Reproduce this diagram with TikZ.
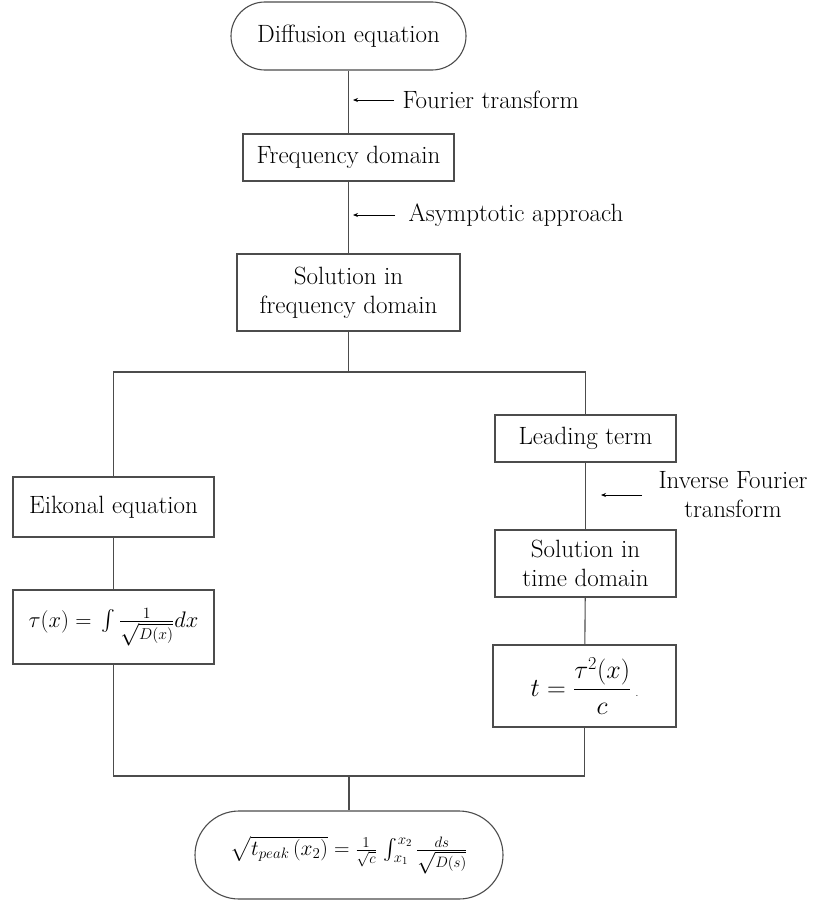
\RequirePackage{fix-cm}
\documentclass[tikz,border=0pt]{standalone}
\usepackage{exscale}
\usepackage{fontspec}
\usetikzlibrary{arrows.meta}
\begin{document}
\begin{tikzpicture}[x=1pt,y=-1pt,
  line width=1.1pt,
  box/.style={draw=black!70,fill=white,inner sep=0pt,align=center,font=\fontsize{25}{29}\selectfont},
  term/.style={box,rounded corners=#1},
  note/.style={inner sep=0pt,font=\fontsize{25}{29}\selectfont},
  conn/.style={draw=black!70},
  tip/.style={draw=black,line width=0.8pt,-{Stealth[length=5pt,width=4pt]}}]
\useasboundingbox (0,0) rectangle (812,902);
% nodes
\node[term=34pt,minimum width=235pt,minimum height=68pt] (top) at (348.5,36) {Diffusion equation};
\node[box,minimum width=211pt,minimum height=47pt] (freq) at (348.5,157.5) {Frequency domain};
\node[box,minimum width=223pt,minimum height=77pt] (solf) at (348.5,292.5) {Solution in\\frequency domain};
\node[box,minimum width=201pt,minimum height=60pt] (eik) at (113.5,507) {Eikonal equation};
\node[box,minimum width=201pt,minimum height=74pt,font=\fontsize{22.5}{26}\selectfont] (tau) at (113.5,627) {$\tau(x) = \,\int \frac{1}{\sqrt{D(x)}} dx$};
\node[box,minimum width=181pt,minimum height=47pt] (lead) at (585.5,438.5) {Leading term};
\node[box,minimum width=181pt,minimum height=67pt] (solt) at (585.5,563.5) {Solution in\\time domain};
\node[box,minimum width=183pt,minimum height=82pt,font=\fontsize{26}{30}\selectfont] (tbox) at (584.5,686) {$\displaystyle t = \frac{\tau^2(x)}{c}$\,{\fontsize{10}{12}\selectfont .}};
\node[term=44pt,minimum width=308pt,minimum height=88pt,font=\fontsize{21.5}{26}\selectfont] (bot) at (349,855) {$\sqrt{t_{peak}\,(x_2)} = \frac{1}{\sqrt{c}}\,\int_{x_1}^{x_2}\frac{ds}{\sqrt{D(s)}}$};
% junction coordinates
\coordinate (jl) at (113.5,372);
\coordinate (jr) at (585.5,372);
\coordinate (bl) at (113.5,776);
\coordinate (br) at (584.5,776);
% connectors
\draw[conn] (top) -- (freq);
\draw[conn] (freq) -- (solf);
\draw[conn] (solf.south) -- (solf.south |- jl);
\draw[conn] (eik.north) -- (jl) -- (jr) -- (lead.north);
\draw[conn] (eik) -- (tau);
\draw[conn] (lead) -- (solt);
\draw[conn] (solt) -- (tbox);
\draw[conn] (tau.south) -- (bl) -- (br) -- (tbox.south);
\draw[conn] (bot.north) -- (bot.north |- bl);
% annotation arrows
\coordinate (a1s) at (394,100); \coordinate (a1e) at (353,100);
\coordinate (a2s) at (395,215); \coordinate (a2e) at (353,215);
\coordinate (a3s) at (642,495); \coordinate (a3e) at (601,495);
\draw[tip] (a1s) -- (a1e);
\draw[tip] (a2s) -- (a2e);
\draw[tip] (a3s) -- (a3e);
\node[note,anchor=west] (l1) at (402,100) {Fourier transform};
\node[note,anchor=west] (l2) at (408,215) {Asymptotic approach};
\node[note,align=center] (l3) at (733,495) {Inverse Fourier\\transform};
\end{tikzpicture}
\end{document}
